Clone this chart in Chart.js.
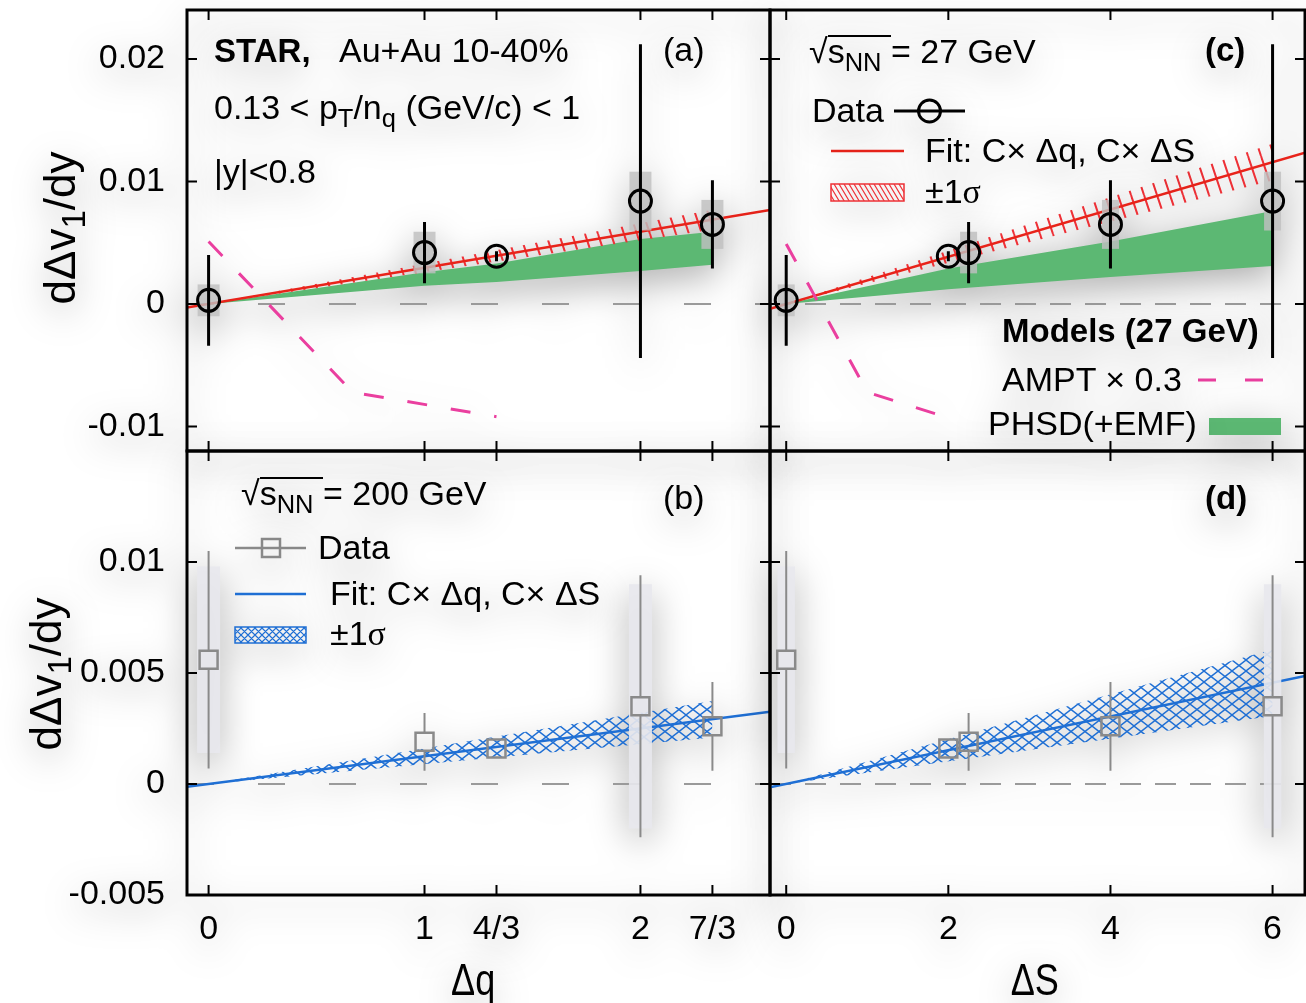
<!DOCTYPE html>
<html lang="en">
<head>
<meta charset="utf-8">
<title>dΔv1/dy vs Δq and ΔS</title>
<script src="https://cdn.jsdelivr.net/npm/chart.js@4.4.1/dist/chart.umd.min.js"></script>
<style>
  html, body { margin: 0; padding: 0; background: #fff; }
  #fig { position: relative; width: 1306px; height: 1003px; overflow: hidden; background: #fff;
         font-family: "Liberation Sans", Arial, Helvetica, sans-serif; color: #000; }
  #fig canvas, #labels { position: absolute; left: 0; top: 0; }
  #labels { width: 1306px; height: 1003px; }
  /* soft grey halo around the artwork */
  #fig canvas, #labels { filter: drop-shadow(0 10px 18px rgba(0,0,0,0.34)); }
  .t { position: absolute; white-space: nowrap; }
  .t sub { font-size: 0.75em; vertical-align: baseline; position: relative; top: 0.3em; line-height: 0; }
  .ov { position: relative; }
  .ov::before { content: ""; position: absolute; left: 0; right: 0; top: 3px; border-top: 2px solid #000; }
  .serif { font-family: "Liberation Serif", "Times New Roman", serif; }
</style>
</head>
<body>
<div id="fig">
  <canvas id="cA" width="1310" height="1003"></canvas>
  <canvas id="cC" width="1310" height="1003"></canvas>
  <canvas id="cB" width="1310" height="1003"></canvas>
  <canvas id="cD" width="1310" height="1003"></canvas>
  <div id="labels"></div>
</div>
<script>
// ---------- axis ticks ----------
const dqTickValues = [0, 1, 4/3, 2, 7/3];
const dqTickLabels = ['0', '1', '4/3', '2', '7/3'];
const dsTickValues = [0, 2, 4, 6];
const dsTickLabels = ['0', '2', '4', '6'];
const y27TickValues = [-0.01, 0, 0.01, 0.02];
const y27TickLabels = ['-0.01', '0', '0.01', '0.02'];
const y200TickValues = [-0.005, 0, 0.005, 0.01];
const y200TickLabels = ['-0.005', '0', '0.005', '0.01'];

// ---------- particle combinations: Δq and ΔS of each pair ----------
const dqPairs = [0, 1, 4/3, 2, 7/3];
const dsPairs = [0, 2.25, 2, 6, 4];   // the ΔS = 2 pair with Δq = 1 is drawn just right of 2

// ---------- 27 GeV measurement ----------
const v1Slope27 = [0.0003, 0.0042, 0.0039, 0.0084, 0.0065];
const stat27 = [0.0037, 0.0025, 0.0004, 0.0128, 0.0036];
const sys27 = [0.0013, 0.0017, 0, 0.0024, 0.0020];

// ---------- 200 GeV measurement ----------
const v1Slope200 = [0.0056, 0.0019, 0.0016, 0.0035, 0.0026];
const stat200 = [0.0049, 0.0013, 0.0003, 0.0059, 0.0020];
const sys200 = [0.0042, 0, 0, 0.0055, 0];

// ---------- linear fits C×Δq, C×ΔS ----------
const fit27q = 0.00295, fit27qErr = 0.00035;
const fit27s = 0.00193, fit27sErr = 0.00025;
const fit200q = 0.00125, fit200qErr = 0.00035;
const fit200s = 0.00076, fit200sErr = 0.00025;

// ---------- models at 27 GeV ----------
const amptDq = [0, 2/3, 4/3];
const amptDqVal = [0.0051, -0.0072, -0.0092];
const amptDs = [0, 1, 2];
const amptDsVal = [0.0049, -0.0072, -0.0093];
const phsdDq = [0, 1, 4/3, 2, 7/3];
const phsdDqLow = [0, 0.0015, 0.0018, 0.0027, 0.0032];
const phsdDqHigh = [0, 0.0026, 0.0033, 0.0053, 0.0059];
const phsdDs = [0, 2, 4, 6];
const phsdDsLow = [0, 0.0012, 0.0022, 0.0031];
const phsdDsHigh = [0, 0.0029, 0.0051, 0.0076];

// ---------- axis ranges ----------
const dqRange = [-0.1, 2.6];
const dsRange = [-0.2, 6.4];
const y27Range = [-0.012, 0.024];
const y200Range = [-0.005, 0.015];

// ---------- styling ----------
const FONT = '"Liberation Sans", Arial, Helvetica, sans-serif';
const RED = '#e8231a', HATCH_RED = '#ee3036', BLUE = '#1f6fd4', GREEN = '#5cb873',
      MAGENTA = '#ea3f9f', GRAY = '#8a8a8a', ZERO = '#9a9a9a';

function pts(xs, ys) { return xs.map((x, i) => ({ x, y: ys[i] })); }
function line(c, x0, x1) { return [{ x: x0, y: c * x0 }, { x: x1, y: c * x1 }]; }

function tile(w, h, draw) {
  const c = document.createElement('canvas');
  c.width = w; c.height = h;
  draw(c.getContext('2d'), w, h);
  return c;
}
const redTile = tile(13, 39, (g, w, h) => {
  g.strokeStyle = HATCH_RED; g.lineWidth = 2;
  for (const o of [-w, 0, w]) { g.beginPath(); g.moveTo(o, 0); g.lineTo(o + w, h); g.stroke(); }
});
const blueTile = tile(14, 11, (g, w, h) => {
  g.strokeStyle = BLUE; g.lineWidth = 1.4;
  for (const o of [-w, 0, w]) {
    g.beginPath(); g.moveTo(o, 0); g.lineTo(o + w, h); g.stroke();
    g.beginPath(); g.moveTo(o + w, 0); g.lineTo(o, h); g.stroke();
  }
});
function pattern(id, t) { return document.getElementById(id).getContext('2d').createPattern(t, 'repeat'); }

// band between two series: lower first, upper fills down to it
function band(lower, upper, fillStyle, order) {
  return [
    { data: lower, borderColor: 'rgba(0,0,0,0)', borderWidth: 0, pointRadius: 0, fill: false, order },
    { data: upper, borderColor: 'rgba(0,0,0,0)', borderWidth: 0, pointRadius: 0, fill: '-1', backgroundColor: fillStyle, order }
  ];
}

function axis(range, values, labels, show, size, horizontal, pad) {
  return {
    type: 'linear', min: range[0], max: range[1], display: show,
    grid: { display: false, drawTicks: false }, border: { display: false },
    afterBuildTicks: s => { s.ticks = values.map(v => ({ value: v })); },
    afterFit: s => {
      if (horizontal) s.height = size; else s.width = size;
      s.paddingTop = s.paddingBottom = s.paddingLeft = s.paddingRight = 0;
    },
    ticks: { autoSkip: false, maxRotation: 0, minRotation: 0, padding: pad, color: '#000',
             font: { family: FONT, size: 34 }, callback: (v, i) => labels[i] }
  };
}

// frame, inward ticks, error bars, systematic boxes and legend symbols
function decor(cfg) {
  return {
    id: 'decor',
    beforeDatasetDraw(chart, args) {
      if (args.index !== 0) return;
      const { ctx, chartArea: a, scales: { x, y } } = chart, m = cfg.marks;
      ctx.save();
      ctx.beginPath(); ctx.rect(a.left, a.top, a.width, a.height); ctx.clip();
      ctx.fillStyle = m.sysColor;
      m.x.forEach((xv, i) => {
        if (!m.sys[i]) return;
        const px = x.getPixelForValue(xv);
        const t = y.getPixelForValue(m.y[i] + m.sys[i]), b = y.getPixelForValue(m.y[i] - m.sys[i]);
        ctx.fillRect(px - m.sysHalf, t, 2 * m.sysHalf, b - t);
      });
      ctx.restore();
    },
    afterDatasetDraw(chart, args) {
      if (args.index !== 0) return;
      const { ctx, chartArea: a, scales: { x, y } } = chart, m = cfg.marks;
      ctx.save();
      ctx.beginPath(); ctx.rect(a.left, a.top, a.width, a.height); ctx.clip();
      ctx.strokeStyle = m.barColor; ctx.lineWidth = m.barWidth;
      ctx.beginPath();
      m.x.forEach((xv, i) => {
        const px = x.getPixelForValue(xv), py = y.getPixelForValue(m.y[i]);
        const t = y.getPixelForValue(m.y[i] + m.stat[i]), b = y.getPixelForValue(m.y[i] - m.stat[i]);
        if (m.gap) {
          if (t < py - m.gap) { ctx.moveTo(px, t); ctx.lineTo(px, py - m.gap); }
          if (b > py + m.gap) { ctx.moveTo(px, py + m.gap); ctx.lineTo(px, b); }
        } else { ctx.moveTo(px, t); ctx.lineTo(px, b); }
      });
      ctx.stroke();
      ctx.restore();
    },
    afterDraw(chart) {
      const { ctx, chartArea: a, scales: { x, y } } = chart;
      ctx.save();
      ctx.strokeStyle = '#000'; ctx.lineWidth = 2;
      ctx.beginPath();
      cfg.xTicks.forEach(v => {
        const px = x.getPixelForValue(v);
        ctx.moveTo(px, a.bottom); ctx.lineTo(px, a.bottom - 10);
        ctx.moveTo(px, a.top); ctx.lineTo(px, a.top + 10);
      });
      cfg.yTicks.forEach(v => {
        const py = y.getPixelForValue(v);
        ctx.moveTo(a.left, py); ctx.lineTo(a.left + 10, py);
        ctx.moveTo(a.right, py); ctx.lineTo(a.right - 10, py);
      });
      ctx.stroke();
      ctx.lineWidth = 3;
      ctx.strokeRect(a.left, a.top, a.width, a.height);
      if (cfg.legend) cfg.legend(ctx);
      ctx.restore();
    }
  };
}

function makePanel(id, cfg) {
  return new Chart(document.getElementById(id), {
    type: 'line',
    data: { datasets: cfg.datasets },
    options: {
      responsive: false, animation: false, events: [],
      layout: { padding: cfg.padding, autoPadding: false },
      plugins: { legend: { display: false }, tooltip: { enabled: false } },
      scales: { x: cfg.x, y: cfg.y }
    },
    plugins: [decor(cfg)]
  });
}

function zeroLine(range, dash) {
  return { data: [{ x: range[0], y: 0 }, { x: range[1], y: 0 }], borderColor: ZERO, borderWidth: 2,
           borderDash: dash, pointRadius: 0, order: 9 };
}
function circles(xs) {
  return { data: pts(xs, v1Slope27), showLine: false, pointStyle: 'circle', pointRadius: 11,
           pointBorderWidth: 3, pointBorderColor: '#000', pointBackgroundColor: 'rgba(0,0,0,0)', order: 0 };
}
function squares(xs) {
  return { data: pts(xs, v1Slope200), showLine: false, pointStyle: 'rect', pointRadius: 12.7,
           pointBorderWidth: 2.5, pointBorderColor: GRAY, pointBackgroundColor: 'rgba(0,0,0,0)', order: 0 };
}

function hatchBox(ctx, x0, y0, w, h, color, step, cross) {
  ctx.save();
  ctx.beginPath(); ctx.rect(x0, y0, w, h); ctx.clip();
  ctx.strokeStyle = color; ctx.lineWidth = 1.2;
  ctx.beginPath();
  for (let s = -h; s < w + h; s += step) {
    ctx.moveTo(x0 + s, y0); ctx.lineTo(x0 + s + h * (cross ? 1 : 0.6), y0 + h);
    if (cross) { ctx.moveTo(x0 + s + h, y0); ctx.lineTo(x0 + s, y0 + h); }
  }
  ctx.stroke();
  ctx.restore();
  ctx.strokeStyle = color; ctx.lineWidth = 1.5;
  ctx.strokeRect(x0, y0, w, h);
}

// ---------- (a) 27 GeV vs Δq ----------
makePanel('cA', {
  padding: { left: 0, top: 10, right: 1310 - 770, bottom: 1003 - 451 },
  x: axis(dqRange, dqTickValues, dqTickLabels, false, 0, true, 0),
  y: axis(y27Range, y27TickValues, y27TickLabels, true, 187, false, 22),
  xTicks: dqTickValues, yTicks: y27TickValues,
  marks: { x: dqPairs, y: v1Slope27, stat: stat27, sys: sys27, sysHalf: 11, sysColor: 'rgba(192,192,192,0.82)',
           barColor: '#000', barWidth: 3, gap: 0 },
  datasets: [
    circles(dqPairs),
    { data: pts(amptDq, amptDqVal), borderColor: MAGENTA, borderWidth: 3, borderDash: [20, 24], pointRadius: 0, order: 1 },
    { data: line(fit27q, dqRange[0], dqRange[1]), borderColor: RED, borderWidth: 2.5, pointRadius: 0, order: 2 },
    ...band(line(fit27q - fit27qErr, 0, 7/3), line(fit27q + fit27qErr, 0, 7/3), pattern('cA', redTile), 3),
    ...band(pts(phsdDq, phsdDqLow), pts(phsdDq, phsdDqHigh), GREEN, 4),
    zeroLine(dqRange, [27, 44])
  ]
});

// ---------- (c) 27 GeV vs ΔS ----------
makePanel('cC', {
  padding: { left: 770, top: 10, right: 1310 - 1305, bottom: 1003 - 451 },
  x: axis(dsRange, dsTickValues, dsTickLabels, false, 0, true, 0),
  y: axis(y27Range, y27TickValues, y27TickLabels, false, 0, false, 0),
  xTicks: dsTickValues, yTicks: y27TickValues,
  marks: { x: dsPairs, y: v1Slope27, stat: stat27, sys: sys27, sysHalf: 8.5, sysColor: 'rgba(192,192,192,0.82)',
           barColor: '#000', barWidth: 3, gap: 0 },
  datasets: [
    circles(dsPairs),
    { data: pts(amptDs, amptDsVal), borderColor: MAGENTA, borderWidth: 3, borderDash: [20, 24], pointRadius: 0, order: 1 },
    { data: line(fit27s, dsRange[0], dsRange[1]), borderColor: RED, borderWidth: 2.5, pointRadius: 0, order: 2 },
    ...band(line(fit27s - fit27sErr, 0, 6), line(fit27s + fit27sErr, 0, 6), pattern('cC', redTile), 3),
    ...band(pts(phsdDs, phsdDsLow), pts(phsdDs, phsdDsHigh), GREEN, 4),
    zeroLine(dsRange, [21, 14])
  ],
  legend(ctx) {
    ctx.lineWidth = 3; ctx.strokeStyle = '#000';
    ctx.beginPath(); ctx.moveTo(894, 111); ctx.lineTo(965, 111); ctx.stroke();
    ctx.beginPath(); ctx.arc(929.5, 111, 11, 0, Math.PI * 2); ctx.stroke();
    ctx.lineWidth = 2.5; ctx.strokeStyle = RED;
    ctx.beginPath(); ctx.moveTo(831, 151); ctx.lineTo(904, 151); ctx.stroke();
    hatchBox(ctx, 831, 184, 73, 17, HATCH_RED, 5, false);
    ctx.lineWidth = 3; ctx.strokeStyle = MAGENTA;
    ctx.beginPath(); ctx.moveTo(1198, 380); ctx.lineTo(1216, 380); ctx.moveTo(1245, 380); ctx.lineTo(1263, 380); ctx.stroke();
    ctx.fillStyle = GREEN; ctx.fillRect(1209, 418, 72, 17);
  }
});

// ---------- (b) 200 GeV vs Δq ----------
makePanel('cB', {
  padding: { left: 0, top: 451, right: 1310 - 770, bottom: 0 },
  x: axis(dqRange, dqTickValues, dqTickLabels, true, 108, true, 14),
  y: axis(y200Range, y200TickValues, y200TickLabels, true, 187, false, 22),
  xTicks: dqTickValues, yTicks: y200TickValues,
  marks: { x: dqPairs, y: v1Slope200, stat: stat200, sys: sys200, sysHalf: 11.5, sysColor: 'rgba(232,232,237,0.9)',
           barColor: GRAY, barWidth: 2, gap: 9 },
  datasets: [
    squares(dqPairs),
    { data: line(fit200q, dqRange[0], dqRange[1]), borderColor: BLUE, borderWidth: 2.5, pointRadius: 0, order: 2 },
    ...band(line(fit200q - fit200qErr, 0, 7/3), line(fit200q + fit200qErr, 0, 7/3), pattern('cB', blueTile), 3),
    zeroLine(dqRange, [27, 44])
  ],
  legend(ctx) {
    ctx.lineWidth = 2.5; ctx.strokeStyle = GRAY;
    ctx.beginPath(); ctx.moveTo(235, 548); ctx.lineTo(306, 548); ctx.stroke();
    ctx.strokeRect(262, 539, 18, 18);
    ctx.strokeStyle = BLUE;
    ctx.beginPath(); ctx.moveTo(235, 594); ctx.lineTo(306, 594); ctx.stroke();
    hatchBox(ctx, 235, 627, 71, 16, BLUE, 7, true);
  }
});

// ---------- (d) 200 GeV vs ΔS ----------
makePanel('cD', {
  padding: { left: 770, top: 451, right: 1310 - 1305, bottom: 0 },
  x: axis(dsRange, dsTickValues, dsTickLabels, true, 108, true, 14),
  y: axis(y200Range, y200TickValues, y200TickLabels, false, 0, false, 0),
  xTicks: dsTickValues, yTicks: y200TickValues,
  marks: { x: dsPairs, y: v1Slope200, stat: stat200, sys: sys200, sysHalf: 8.7, sysColor: 'rgba(232,232,237,0.9)',
           barColor: GRAY, barWidth: 2, gap: 9 },
  datasets: [
    squares(dsPairs),
    { data: line(fit200s, dsRange[0], dsRange[1]), borderColor: BLUE, borderWidth: 2.5, pointRadius: 0, order: 2 },
    ...band(line(fit200s - fit200sErr, 0, 6), line(fit200s + fit200sErr, 0, 6), pattern('cD', blueTile), 3),
    zeroLine(dsRange, [21, 14])
  ]
});

// ---------- text labels ----------
const layer = document.getElementById('labels');
function put(html, x, base, size = 34, extra = '') {
  const el = document.createElement('div');
  el.className = 't';
  el.style.cssText = `left:${x}px;top:${base - 0.8465 * size}px;font-size:${size}px;line-height:${size}px;${extra}`;
  el.innerHTML = html;
  layer.appendChild(el);
  return el;
}
put('<b>STAR,</b>', 214, 62, 33);
put('Au+Au 10-40%', 339, 62);
put('0.13 &lt; p<sub>T</sub>/n<sub>q</sub> (GeV/c) &lt; 1', 214, 119);
put('|y|&lt;0.8', 214, 183);
put('(a)', 663, 61);
put('<b>(c)</b>', 1205, 61, 33);
put('(b)', 663, 509);
put('<b>(d)</b>', 1205, 509, 33);
put('√<span class="ov">s<sub>NN</sub>&nbsp;</span>= 27 GeV', 809, 63);
put('Data', 812, 122);
put('Fit: C× Δq, C× ΔS', 925, 162);
put('±1<span class="serif">σ</span>', 925, 203);
put('<b>Models (27 GeV)</b>', 1002, 342, 33);
put('AMPT × 0.3', 1002, 391);
put('PHSD(+EMF)', 988, 435);
put('√<span class="ov">s<sub>NN</sub>&nbsp;</span>= 200 GeV', 241, 505);
put('Data', 318, 559);
put('Fit: C× Δq, C× ΔS', 330, 605);
put('±1<span class="serif">σ</span>', 330, 645);

// axis titles
function ytitle(cx, cy) {
  const el = document.createElement('div');
  el.className = 't';
  el.style.cssText = `left:${cx}px;top:${cy}px;font-size:44px;line-height:44px;transform:translate(-50%,-50%) rotate(-90deg);`;
  el.innerHTML = 'dΔv<sub>1</sub>/dy';
  layer.appendChild(el);
}
ytitle(60, 228);
ytitle(46, 674);
function xtitle(txt, cx, base) {
  put(txt, cx, base, 44, 'transform:translateX(-50%) scaleX(0.82);transform-origin:0 0;');
}
xtitle('Δq', 478, 995);
xtitle('ΔS', 1040, 995);
</script>
</body>
</html>
